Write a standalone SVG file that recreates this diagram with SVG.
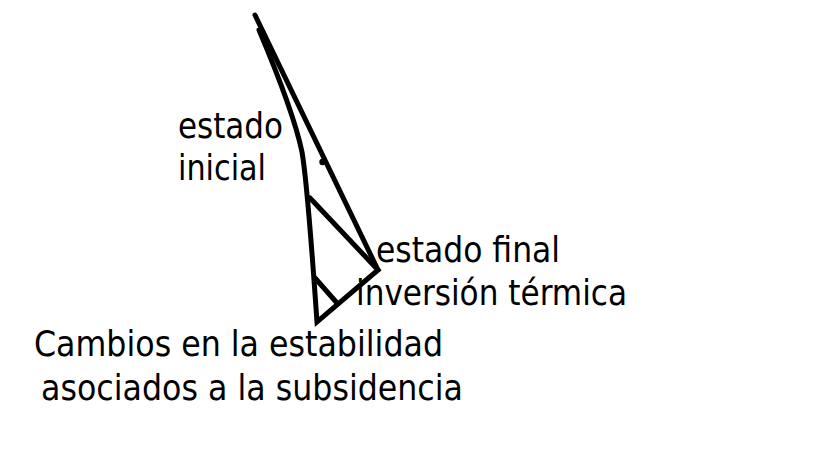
<svg xmlns="http://www.w3.org/2000/svg" width="819" height="460" viewBox="0 0 819 460">
<style>
.ln{fill:none;stroke:#000;stroke-width:5;stroke-linejoin:miter;stroke-miterlimit:10;stroke-linecap:round}
.t{font-family:"DejaVu Sans Condensed","DejaVu Sans",sans-serif;font-stretch:condensed;font-size:36px;fill:#000}
</style>
<rect width="819" height="460" fill="#fff"/>
<g id="connectors">
<path class="ln" d="M255,15 L378,270"/>
<circle cx="322.5" cy="162" r="3.2" fill="#000"/>
<path class="ln" d="M259,30 C281,82 297,128 302,152 C306,175 312,250 317,322 L378,270 L310,198"/>
<path class="ln" d="M315,278 L337,303"/>
</g>
<g id="label-estado-inicial">
<text class="t" x="178" y="138" textLength="105" lengthAdjust="spacingAndGlyphs">estado</text>
<text class="t" x="178" y="180" textLength="88" lengthAdjust="spacingAndGlyphs">inicial</text>
</g>
<g id="label-estado-final">
<text class="t" x="376" y="262" textLength="184" lengthAdjust="spacingAndGlyphs">estado final</text>
</g>
<g id="label-inversion">
<text class="t" x="356" y="305" textLength="271" lengthAdjust="spacingAndGlyphs">inversión térmica</text>
</g>
<g id="title">
<text class="t" x="34" y="356" textLength="409" lengthAdjust="spacingAndGlyphs">Cambios en la estabilidad</text>
<text class="t" x="41" y="400" textLength="422" lengthAdjust="spacingAndGlyphs">asociados a la subsidencia</text>
</g>
</svg>
